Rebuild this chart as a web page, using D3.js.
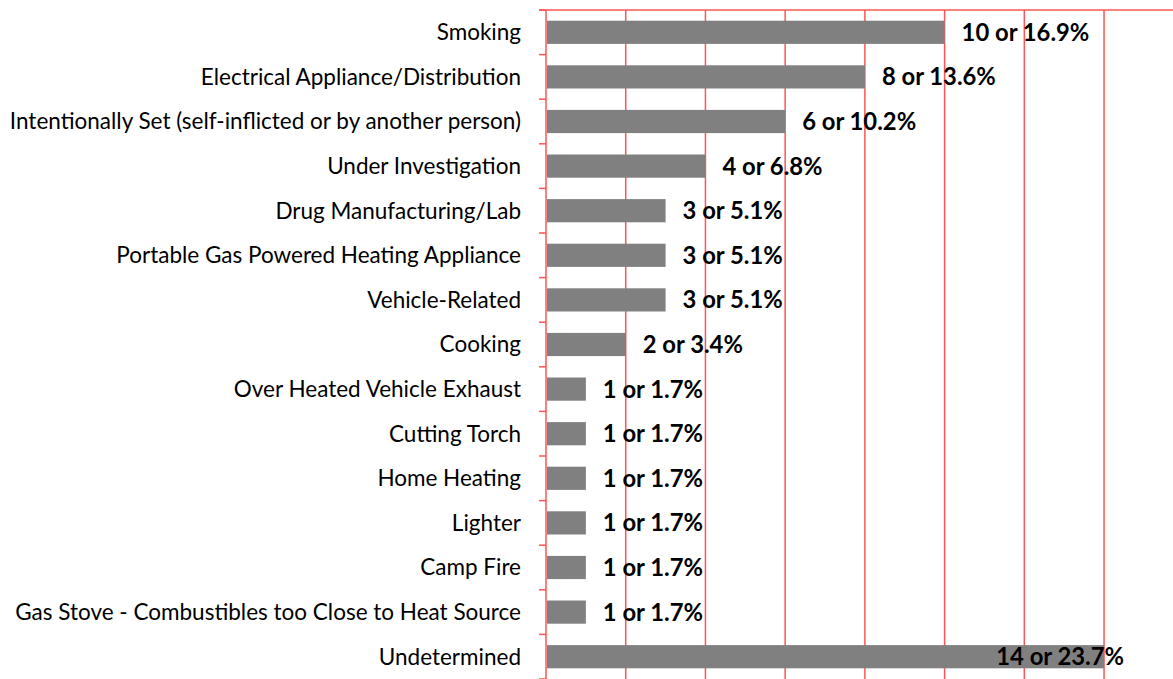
<!DOCTYPE html>
<html>
<head>
<meta charset="utf-8">
<script src="https://cdn.jsdelivr.net/npm/d3@7"></script>
<style>
  html, body { margin: 0; padding: 0; background: #fff; }
  svg { display: block; }
</style>
</head>
<body>
<div id="chart"></div>
<script>
const categories = [
  "Smoking",
  "Electrical Appliance/Distribution",
  "Intentionally Set (self-inflicted or by another person)",
  "Under Investigation",
  "Drug Manufacturing/Lab",
  "Portable Gas Powered Heating Appliance",
  "Vehicle-Related",
  "Cooking",
  "Over Heated Vehicle Exhaust",
  "Cutting Torch",
  "Home Heating",
  "Lighter",
  "Camp Fire",
  "Gas Stove - Combustibles too Close to Heat Source",
  "Undetermined"
];
const counts = [10, 8, 6, 4, 3, 3, 3, 2, 1, 1, 1, 1, 1, 1, 14];
const percents = ["16.9%", "13.6%", "10.2%", "6.8%", "5.1%", "5.1%", "5.1%", "3.4%", "1.7%", "1.7%", "1.7%", "1.7%", "1.7%", "1.7%", "23.7%"];
const gridTicks = [0, 2, 4, 6, 8, 10, 12, 14, 16];

const data = categories.map((c, i) => ({ name: c, value: counts[i], pct: percents[i] }));

const width = 1173;
const height = 679;
const margin = { top: 10, right: 0, bottom: 0, left: 546 };

const svg = d3.select('#chart')
  .append('svg')
  .attr('width', width)
  .attr('height', height);

const x = d3.scaleLinear()
  .domain([0, 16])
  .range([margin.left, margin.left + 16 * 39.86]);

const y = d3.scaleBand()
  .domain(categories)
  .range([margin.top, margin.top + categories.length * 44.6])
  .paddingInner(0.48)
  .paddingOuter(0.24);

const red = '#ff5454';

// vertical gridlines
svg.append('g')
  .selectAll('line')
  .data(gridTicks)
  .join('line')
  .attr('x1', d => x(d))
  .attr('x2', d => x(d))
  .attr('y1', margin.top)
  .attr('y2', height + 5)
  .attr('stroke', red)
  .attr('stroke-width', 1.5);

// top line
svg.append('line')
  .attr('x1', margin.left - 7)
  .attr('x2', width)
  .attr('y1', margin.top)
  .attr('y2', margin.top)
  .attr('stroke', red)
  .attr('stroke-width', 1.5);

// category boundary ticks on the left axis
const step = y.step();
const boundaries = d3.range(categories.length + 1).map(i => margin.top + i * step);
svg.append('g')
  .selectAll('line')
  .data(boundaries)
  .join('line')
  .attr('x1', margin.left - 7)
  .attr('x2', margin.left)
  .attr('y1', d => d)
  .attr('y2', d => d)
  .attr('stroke', red)
  .attr('stroke-width', 1.5);

// bars
svg.append('g')
  .selectAll('rect')
  .data(data)
  .join('rect')
  .attr('x', x(0) + 1)
  .attr('y', d => y(d.name))
  .attr('width', d => x(d.value) - x(0) - 1)
  .attr('height', y.bandwidth())
  .attr('fill', '#808080');

// category labels
svg.append('g')
  .selectAll('text')
  .data(data)
  .join('text')
  .attr('x', margin.left - 25)
  .attr('y', d => y(d.name) + y.bandwidth() / 2)
  .attr('dy', '0.35em')
  .attr('text-anchor', 'end')
  .style('font-family', 'Lato, "Open Sans", sans-serif')
  .style('font-size', '22.5px')
  .style('fill', '#000')
  .text(d => d.name);

// value labels
svg.append('g')
  .selectAll('text')
  .data(data)
  .join('text')
  .attr('y', d => y(d.name) + y.bandwidth() / 2)
  .attr('dy', '0.36em')
  .style('font-family', 'Lato, "Open Sans", sans-serif')
  .style('font-size', '23.8px')
  .style('font-weight', 'bold')
  .style('fill', '#000')
  .text(d => `${d.value} or ${d.pct}`)
  .each(function (d) {
    const t = d3.select(this);
    const w = this.getComputedTextLength();
    const start = x(d.value) + 17;
    if (start + w > width - 30) {
      // no room outside the bar: pull it back over the bar end
      t.attr('x', x(d.value) + 20).attr('text-anchor', 'end');
    } else {
      t.attr('x', start);
    }
  });
</script>
</body>
</html>
